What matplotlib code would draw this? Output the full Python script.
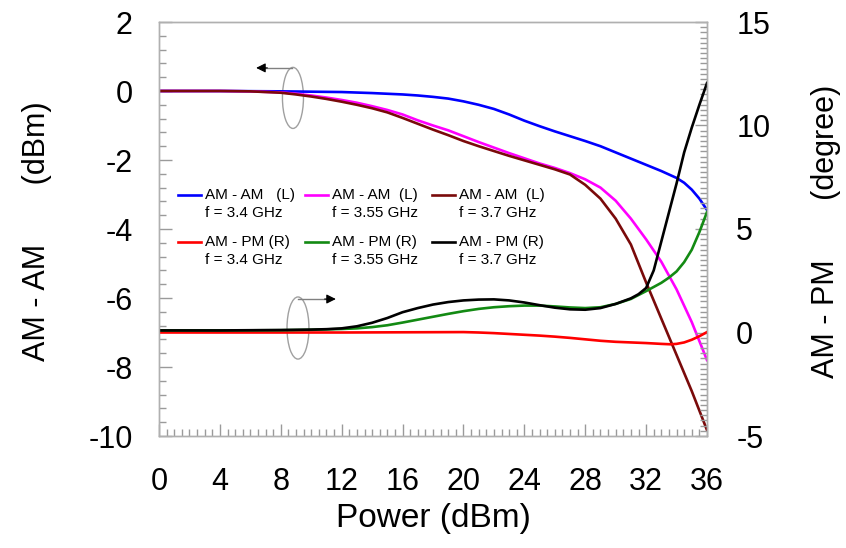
import matplotlib
matplotlib.use("Agg")
import matplotlib.pyplot as plt
from matplotlib.patches import Ellipse
from matplotlib.ticker import MultipleLocator

plt.rcParams['font.family'] = ['Liberation Sans', 'DejaVu Sans']
plt.rcParams['axes.unicode_minus'] = False

# AM-AM (left axis, dBm)
x_amam_34 = [0, 4, 8, 10, 12, 14, 16, 17, 18, 19, 20, 21, 22, 23, 24, 25, 26, 27, 28, 29,
             30, 31, 32, 33, 34, 34.5, 35, 35.5, 36]
y_amam_34 = [0, 0, -0.01, -0.02, -0.03, -0.06, -0.1, -0.13, -0.17, -0.22, -0.3, -0.4, -0.52,
             -0.68, -0.86, -1.02, -1.17, -1.31, -1.45, -1.6, -1.78, -1.96, -2.14, -2.32, -2.52,
             -2.66, -2.86, -3.12, -3.45]

x_amam_355 = [0, 4, 6, 8, 9, 10, 11, 12, 13, 14, 15, 16, 17, 18, 19, 20, 21, 22, 23, 24, 25,
              26, 27, 28, 29, 30, 31, 32, 33, 34, 35, 36]
y_amam_355 = [0, 0, -0.01, -0.04, -0.08, -0.13, -0.19, -0.26, -0.34, -0.44, -0.55, -0.68,
              -0.85, -1.0, -1.14, -1.31, -1.48, -1.64, -1.8, -1.95, -2.1, -2.23, -2.38, -2.56,
              -2.8, -3.18, -3.7, -4.3, -4.95, -5.75, -6.7, -7.8]

x_amam_37 = [0, 4, 6, 8, 9, 10, 11, 12, 13, 14, 15, 16, 17, 18, 19, 20, 21, 22, 23, 24, 25,
             26, 27, 28, 29, 30, 31, 32, 33, 34, 35, 36]
y_amam_37 = [0, 0, -0.01, -0.05, -0.1, -0.16, -0.23, -0.31, -0.4, -0.5, -0.62, -0.78, -0.95,
             -1.12, -1.28, -1.45, -1.6, -1.74, -1.88, -2.01, -2.14, -2.27, -2.42, -2.72, -3.12,
             -3.7, -4.45, -5.55, -6.6, -7.65, -8.7, -9.83]

# AM-PM (right axis, degree)
x_ampm_34 = [0, 4, 8, 12, 16, 20, 21, 22, 23, 24, 25, 26, 27, 28, 29, 30, 31, 32, 33, 33.6,
             34, 34.5, 35, 35.5, 36]
y_ampm_34 = [0, 0, 0, 0, 0.01, 0.02, 0, -0.03, -0.07, -0.11, -0.15, -0.2, -0.26, -0.33, -0.4,
             -0.45, -0.48, -0.51, -0.55, -0.57, -0.55, -0.48, -0.35, -0.18, 0.02]

x_ampm_355 = [0, 4, 8, 10, 11, 12, 13, 14, 15, 16, 17, 18, 19, 20, 21, 22, 23, 24, 25, 26, 27,
              28, 29, 30, 31, 32, 33, 33.5, 34, 34.5, 35, 35.5, 36]
y_ampm_355 = [0.1, 0.1, 0.11, 0.13, 0.15, 0.17, 0.2, 0.26, 0.35, 0.48, 0.62, 0.76, 0.9, 1.03,
              1.14, 1.22, 1.27, 1.3, 1.3, 1.26, 1.21, 1.18, 1.22, 1.38, 1.62, 2.0, 2.4, 2.65,
              2.95, 3.4, 4.0, 4.85, 5.82]

x_ampm_37 = [0, 4, 8, 10, 11, 12, 13, 14, 15, 16, 17, 18, 19, 20, 21, 22, 23, 24, 25, 26, 27,
             28, 29, 30, 31, 31.5, 32, 32.5, 33, 33.5, 34, 34.5, 35, 35.5, 36]
y_ampm_37 = [0.1, 0.1, 0.12, 0.14, 0.16, 0.2, 0.3, 0.47, 0.7, 0.98, 1.18, 1.35, 1.47, 1.55,
             1.59, 1.6, 1.55, 1.45, 1.32, 1.2, 1.12, 1.1, 1.18, 1.38, 1.65, 1.85, 2.15, 3.0,
             4.4, 5.8, 7.2, 8.7, 9.9, 11.0, 12.05]

amam_series = [(x_amam_34, y_amam_34, '#0000ff', 'AM - AM   (L)', 'f = 3.4 GHz'),
               (x_amam_355, y_amam_355, '#ff00ff', 'AM - AM  (L)', 'f = 3.55 GHz'),
               (x_amam_37, y_amam_37, '#7a0a0a', 'AM - AM  (L)', 'f = 3.7 GHz')]
ampm_series = [(x_ampm_34, y_ampm_34, '#ff0000', 'AM - PM (R)', 'f = 3.4 GHz'),
               (x_ampm_355, y_ampm_355, '#138a13', 'AM - PM (R)', 'f = 3.55 GHz'),
               (x_ampm_37, y_ampm_37, '#000000', 'AM - PM (R)', 'f = 3.7 GHz')]

fig = plt.figure(figsize=(8.46, 5.48), dpi=100)
ax1 = fig.add_axes([159 / 846, 1 - 436 / 548, 548 / 846, 414 / 548])
ax2 = ax1.twinx()

for x, y, c, l1, l2 in amam_series:
    ax1.plot(x, y, color=c, lw=1.9)
for x, y, c, l1, l2 in ampm_series:
    ax2.plot(x, y, color=c, lw=1.9)

ax1.set_xlim(0, 36)
ax1.set_ylim(-10, 2)
ax2.set_ylim(-5, 15)

gray = '#9a9a9a'
for a in (ax1, ax2):
    for s in a.spines.values():
        s.set_color('#b0b0b0')
        s.set_linewidth(1.0)

ax1.xaxis.set_major_locator(MultipleLocator(4))
ax1.xaxis.set_minor_locator(MultipleLocator(0.5))
ax1.yaxis.set_major_locator(MultipleLocator(2))
ax1.yaxis.set_minor_locator(MultipleLocator(0.4))
ax2.yaxis.set_major_locator(MultipleLocator(5))
ax2.yaxis.set_minor_locator(MultipleLocator(0.25))

ax1.tick_params(axis='both', which='both', direction='in', color=gray, width=1.0,
                labelsize=22, top=False, right=False)
ax1.tick_params(axis='both', which='major', length=9)
ax1.tick_params(axis='both', which='minor', length=5)
ax1.tick_params(axis='x', which='major', pad=22)
ax1.tick_params(axis='y', which='major', pad=19)
ax2.tick_params(axis='y', which='both', direction='in', color=gray, width=1.0, labelsize=22)
ax2.tick_params(axis='y', which='major', length=9, pad=21)
ax2.tick_params(axis='y', which='minor', length=5)

ax1.set_xlabel('Power (dBm)', fontsize=24)
ax1.set_ylabel('AM - AM       (dBm)', fontsize=22)
ax2.set_ylabel('AM - PM       (degree)', fontsize=22)
ax1.xaxis.set_label_coords(0.5, -0.2)
ax1.yaxis.set_label_coords(-0.223, 0.495)
ax2.yaxis.set_label_coords(1.218, 0.495)
ax1.yaxis.label.set_va('center')
ax2.yaxis.label.set_va('center')
ax1.xaxis.label.set_va('center')

# legend drawn by hand: key line beside first text line
for row, series in enumerate([amam_series, ampm_series]):
    y0 = 0.582 - row * 0.113
    for col, (x, y, c, l1, l2) in enumerate(series):
        x0 = 0.035 + col * 0.232
        ax2.plot([x0, x0 + 0.041], [y0, y0], color=c, lw=1.9,
                 transform=ax2.transAxes, clip_on=False)
        ax2.text(x0 + 0.049, y0, l1, fontsize=11, va='center', transform=ax2.transAxes)
        ax2.text(x0 + 0.049, y0 - 0.043, l2, fontsize=11, va='center', transform=ax2.transAxes)

# ellipses with arrows pointing to the axis each group uses
ax1.add_patch(Ellipse((8.8, -0.2), 1.38, 1.77, fill=False, ec='#a0a0a0', lw=1.0))
ax1.plot([8.75, 6.9], [0.67, 0.67], color='#808080', lw=1.0)
ax1.annotate('', xy=(6.2, 0.67), xytext=(7.3, 0.67),
             arrowprops=dict(arrowstyle='-|>', color='black', lw=0.8, mutation_scale=14))
ax1.add_patch(Ellipse((9.13, -6.87), 1.44, 1.8, fill=False, ec='#a0a0a0', lw=1.0))
ax1.plot([9.1, 11.1], [-6.03, -6.03], color='#808080', lw=1.0)
ax1.annotate('', xy=(11.8, -6.03), xytext=(10.7, -6.03),
             arrowprops=dict(arrowstyle='-|>', color='black', lw=0.8, mutation_scale=14))

fig.savefig('out.png', dpi=100)
